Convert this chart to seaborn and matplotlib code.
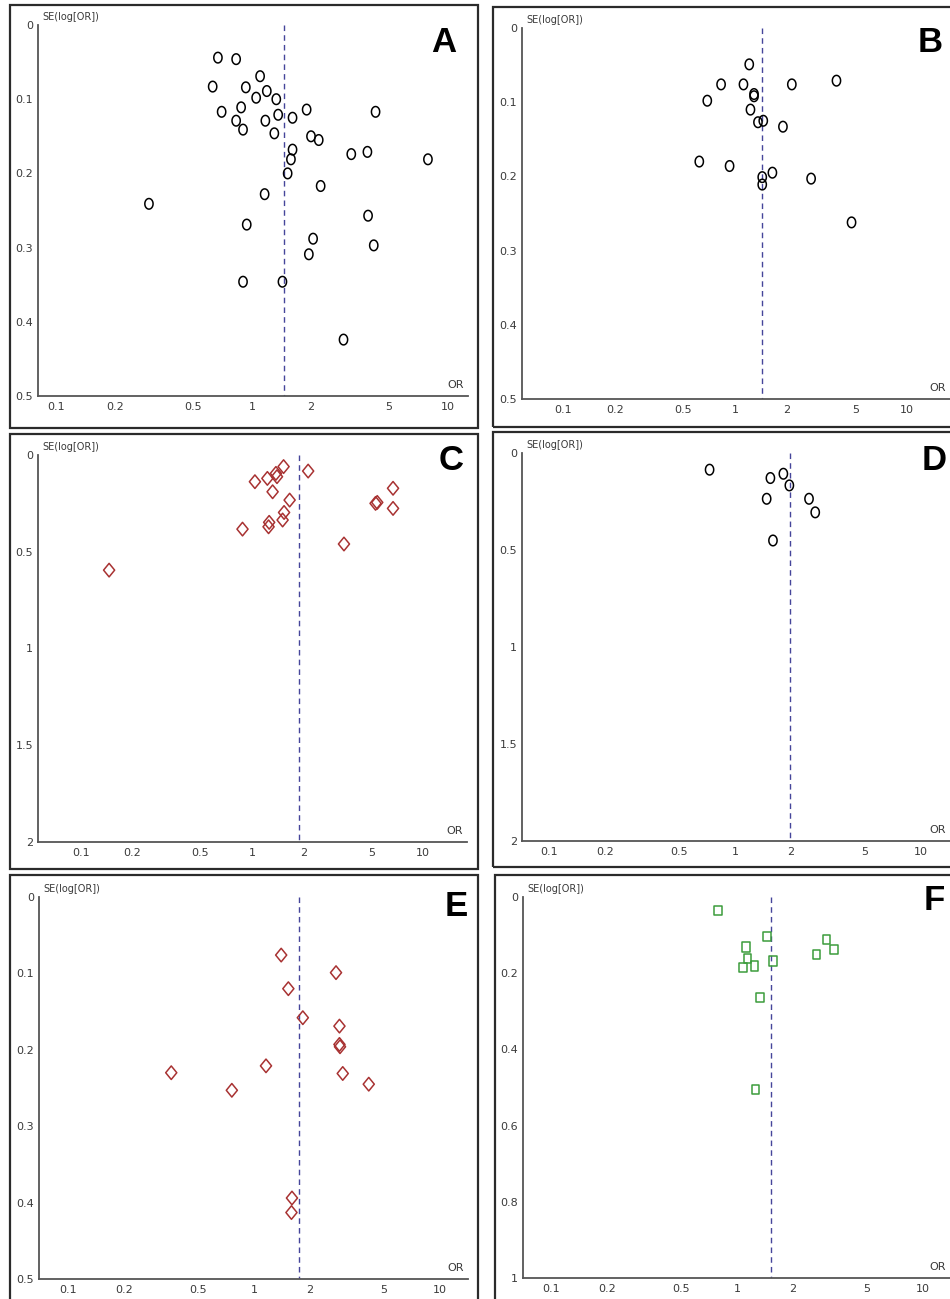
import numpy as np
import pandas as pd
import matplotlib
matplotlib.use('Agg')
import matplotlib.pyplot as plt
import seaborn as sns
from matplotlib.path import Path
from matplotlib.patches import Rectangle
from matplotlib.ticker import NullLocator

sns.set_theme(style='white')
plt.rcParams['font.family'] = ['Liberation Sans Narrow', 'DejaVu Sans']

# ---- funnel plot data: odds ratio vs SE(log OR) ----
a_or = [0.67, 0.83, 0.63, 0.93, 1.10, 1.19, 1.05, 1.33, 0.88, 0.70, 1.36, 1.61,
        1.90, 4.27, 0.83, 1.17, 0.90, 1.30, 2.00, 2.19, 1.61, 1.58, 3.21, 3.88,
        7.90, 1.52, 2.24, 1.16, 0.298, 0.94, 3.91, 2.05, 4.18, 1.95, 0.90, 1.43, 2.93]
a_se = [0.044, 0.046, 0.083, 0.084, 0.069, 0.089, 0.098, 0.100, 0.111, 0.117, 0.121, 0.125,
        0.114, 0.117, 0.129, 0.129, 0.141, 0.146, 0.150, 0.155, 0.168, 0.181, 0.174, 0.171,
        0.181, 0.200, 0.217, 0.228, 0.241, 0.269, 0.257, 0.288, 0.297, 0.309, 0.346, 0.346, 0.424]
a_pooled = 1.46

b_or = [1.21, 0.83, 1.12, 2.14, 3.89, 1.29, 1.29, 0.69, 1.23, 1.36, 1.46, 1.90,
        0.62, 0.93, 1.44, 1.44, 1.65, 2.77, 4.76]
b_se = [0.049, 0.076, 0.076, 0.076, 0.071, 0.089, 0.092, 0.098, 0.110, 0.127, 0.125, 0.133,
        0.180, 0.186, 0.201, 0.211, 0.195, 0.203, 0.262]
b_pooled = 1.44

c_or = [1.04, 1.23, 1.38, 1.40, 1.53, 2.13, 1.32, 1.66, 1.54, 1.51, 1.26, 1.25,
        0.88, 6.68, 5.28, 5.40, 6.68, 3.45, 0.146]
c_se = [0.138, 0.121, 0.095, 0.112, 0.060, 0.083, 0.190, 0.233, 0.297, 0.336, 0.348, 0.371,
        0.383, 0.172, 0.250, 0.245, 0.276, 0.460, 0.595]
c_pooled = 1.88

d_or = [0.73, 1.55, 1.82, 1.96, 1.48, 2.50, 2.70, 1.60]
d_se = [0.086, 0.129, 0.107, 0.167, 0.236, 0.236, 0.306, 0.451]
d_pooled = 1.98

e_or = [1.40, 2.76, 1.53, 1.83, 2.88, 2.88, 2.90, 3.00, 4.14, 1.16, 0.359, 0.76, 1.60, 1.59]
e_se = [0.076, 0.099, 0.120, 0.158, 0.169, 0.193, 0.196, 0.231, 0.245, 0.221, 0.230, 0.253,
        0.394, 0.413]
e_pooled = 1.75

f_or = [0.79, 1.45, 1.12, 1.14, 1.08, 1.24, 1.56, 3.02, 2.67, 3.32, 1.33, 1.26]
f_se = [0.035, 0.103, 0.131, 0.162, 0.185, 0.181, 0.168, 0.112, 0.151, 0.138, 0.264, 0.506]
f_pooled = 1.52

or_ticks = [0.1, 0.2, 0.5, 1, 2, 5, 10]
or_ticklabels = ['0.1', '0.2', '0.5', '1', '2', '5', '10']

# ---- layout in pixels ----
W, H = 950, 1299
fig = plt.figure(figsize=(W / 100, H / 100), dpi=100)
fig.patch.set_facecolor('white')

# panel frames (left, top, right, bottom)
frames = [(10, 5, 478, 428), (493, 7, 990, 427),
          (10, 434, 478, 869), (493, 432, 990, 867),
          (10, 875, 478, 1340), (495, 875, 990, 1340)]
for l, t, r, b in frames:
    fig.add_artist(Rectangle((l / W, 1 - b / H), (r - l) / W, (b - t) / H,
                             transform=fig.transFigure, fill=False,
                             edgecolor='#2b2b2b', linewidth=1.6))

# axis left, axis right, y top, y bottom, px of OR=0.1, px of OR=10
layout = {
    'A': (38, 468, 25, 396, 56, 448),
    'B': (522, 950, 28, 399, 563, 907),
    'C': (38, 467, 455, 842, 81, 423),
    'D': (522, 950, 453, 841, 549, 921),
    'E': (39, 468, 897, 1279, 68, 440),
    'F': (523, 950, 897, 1278, 551, 923),
}
letter_pos = {'A': (444, 42), 'B': (930, 42), 'C': (451, 461),
              'D': (934, 461), 'E': (456, 906), 'F': (934, 901)}

t = np.linspace(0, 2 * np.pi, 40)
oval = Path(np.column_stack([0.78 * np.cos(t), np.sin(t)]), closed=True)
diamond = Path([[0, 1], [0.82, 0], [0, -1], [-0.82, 0], [0, 1]], closed=True)
square = Path([[-0.8, -1], [0.8, -1], [0.8, 1], [-0.8, 1], [-0.8, -1]], closed=True)

axis_col = '#555555'
text_col = '#3a3a3a'


def funnel(key, or_vals, se_vals, pooled, ymax, yticks, yticklabels, marker, color, size):
    x0, x1, ytop, ybot, p01, p10 = layout[key]
    ax = fig.add_axes([x0 / W, 1 - ybot / H, (x1 - x0) / W, (ybot - ytop) / H])
    ax.set_facecolor('none')
    df = pd.DataFrame({'OR': or_vals, 'SE': se_vals})
    sns.scatterplot(data=df, x='OR', y='SE', marker=marker, s=size,
                    facecolor='none', edgecolor=color, linewidth=1.1,
                    ax=ax, zorder=3, clip_on=False)
    ax.set_xscale('log')
    dec = (p10 - p01) / 2
    ax.set_xlim(10 ** (-1 + (x0 - p01) / dec), 10 ** (-1 + (x1 - p01) / dec))
    ax.set_ylim(ymax, 0)
    ax.plot([pooled, pooled], [0, ymax], color='#45459a', lw=1.0,
            ls=(0, (4, 3)), zorder=2)

    ax.set_xticks(or_ticks)
    ax.set_xticklabels(or_ticklabels)
    ax.xaxis.set_minor_locator(NullLocator())
    ax.set_yticks(yticks)
    ax.set_yticklabels(yticklabels)
    ax.tick_params(axis='both', direction='inout', length=7, width=1,
                   color=axis_col, labelsize=8, labelcolor=text_col, pad=1)
    ax.tick_params(axis='y', pad=0)
    ax.set_xlabel('')
    ax.set_ylabel('')
    for side in ['top', 'right']:
        ax.spines[side].set_visible(False)
    for side in ['left', 'bottom']:
        ax.spines[side].set_color(axis_col)
        ax.spines[side].set_linewidth(1.3)

    ax.annotate('SE(log[OR])', xy=(0, 1), xycoords='axes fraction',
                xytext=(3, 2), textcoords='offset points', ha='left', va='bottom',
                fontsize=7, color=text_col)
    ax.annotate('OR', xy=(1, 0), xycoords='axes fraction',
                xytext=(-3, 4), textcoords='offset points', ha='right', va='bottom',
                fontsize=8, color=text_col)
    lx, ly = letter_pos[key]
    fig.text(lx / W, 1 - ly / H, key, ha='center', va='center', fontsize=25,
             fontweight='bold', color='black', family=['Liberation Sans', 'DejaVu Sans'])
    return ax


se5 = [0, 0.1, 0.2, 0.3, 0.4, 0.5]
se5_lab = ['0', '0.1', '0.2', '0.3', '0.4', '0.5']
se2 = [0, 0.5, 1, 1.5, 2]
se2_lab = ['0', '0.5', '1', '1.5', '2']
se1 = [0, 0.2, 0.4, 0.6, 0.8, 1]
se1_lab = ['0', '0.2', '0.4', '0.6', '0.8', '1']

funnel('A', a_or, a_se, a_pooled, 0.5, se5, se5_lab, oval, 'black', 58)
funnel('B', b_or, b_se, b_pooled, 0.5, se5, se5_lab, oval, 'black', 58)
funnel('C', c_or, c_se, c_pooled, 2, se2, se2_lab, diamond, '#a83232', 95)
funnel('D', d_or, d_se, d_pooled, 2, se2, se2_lab, oval, 'black', 58)
funnel('E', e_or, e_se, e_pooled, 0.5, se5, se5_lab, diamond, '#a83232', 95)
funnel('F', f_or, f_se, f_pooled, 1, se1, se1_lab, square, '#3c9c3c', 45)

fig.savefig('out.png', dpi=100)
